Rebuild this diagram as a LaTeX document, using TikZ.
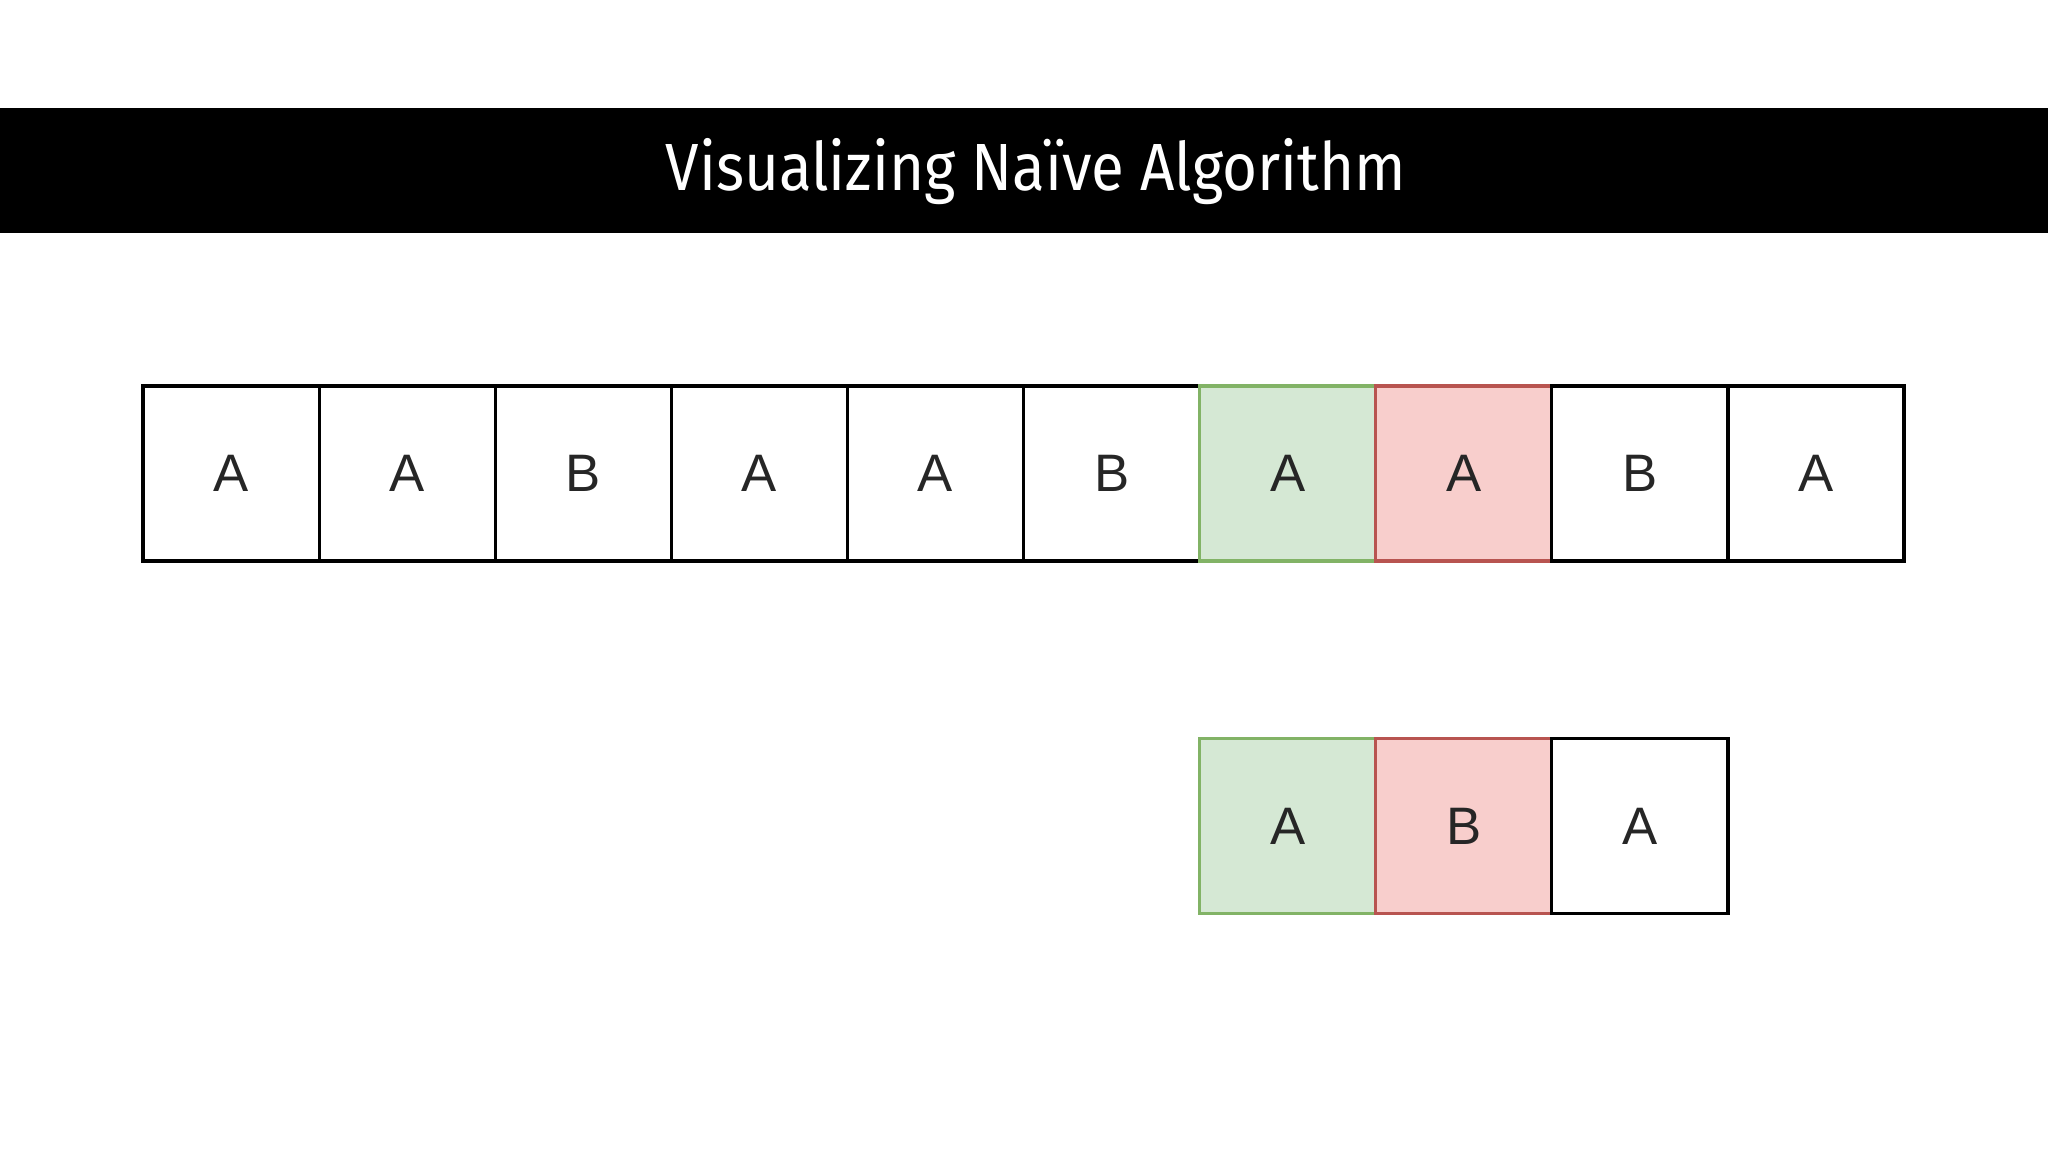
\documentclass[tikz,border=0pt]{standalone}
\usepackage{fontspec}
\setmainfont{Liberation Sans}
\newfontfamily\titlefont[FakeStretch=0.9]{Fira Sans}
\definecolor{goodfill}{HTML}{D5E8D4}
\definecolor{goodline}{HTML}{82B366}
\definecolor{badfill}{HTML}{F8CECC}
\definecolor{badline}{HTML}{B85450}
\tikzset{
  cell/.style={draw, line width=0.9pt, inner sep=0pt, minimum width=1.761cm, minimum height=1.75cm,
    font=\fontsize{15}{15}\selectfont, text=black!85},
  hit/.style={cell, draw=goodline, fill=goodfill},
  miss/.style={cell, draw=badline, fill=badfill}
}
\begin{document}
\begin{tikzpicture}

\useasboundingbox (0,0) rectangle (20.48,-11.52);

% Titulo
\node[fill=black, inner sep=0pt, minimum width=20.48cm, minimum height=1.25cm] (bar) at (10.24,-1.705) {};
\node[text=white, font=\titlefont\fontsize{19}{19}\selectfont] (title) at (10.36,-1.72) {Visualizing Naïve Algorithm};

% Texto
\node[cell] (T1) at (2.311,-4.735) {A};
\node[cell] (T2) at (4.072,-4.735) {A};
\node[cell] (T3) at (5.833,-4.735) {B};
\node[cell] (T4) at (7.594,-4.735) {A};
\node[cell] (T5) at (9.355,-4.735) {A};
\node[cell] (T6) at (11.116,-4.735) {B};
\node[hit] (T7) at (12.877,-4.735) {A};
\node[miss] (T8) at (14.638,-4.735) {A};
\node[cell] (T9) at (16.399,-4.735) {B};
\node[cell] (T10) at (18.160,-4.735) {A};

% Padrao
\node[hit] (P1) at (12.877,-8.26) {A};
\node[miss] (P2) at (14.638,-8.26) {B};
\node[cell] (P3) at (16.399,-8.26) {A};

\end{tikzpicture}
\end{document}
